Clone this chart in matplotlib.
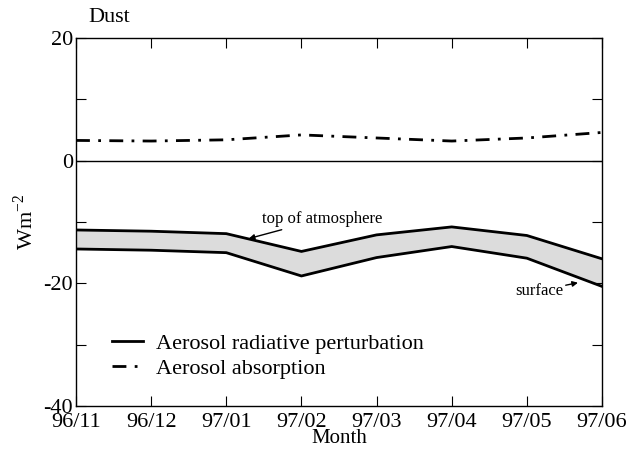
import numpy as np
import matplotlib.pyplot as plt
from matplotlib.ticker import MultipleLocator

# ---------- 数据 ----------
months = ['96/11', '96/12', '97/01', '97/02', '97/03', '97/04', '97/05', '97/06']
toa = [-11.3, -11.5, -11.9, -14.8, -12.1, -10.8, -12.2, -16.0]
surface = [-14.4, -14.6, -15.0, -18.8, -15.8, -14.0, -15.9, -20.5]
absorption = [3.3, 3.2, 3.4, 4.2, 3.7, 3.2, 3.7, 4.6]

plt.rcParams['font.family'] = ['Liberation Serif', 'DejaVu Serif']
plt.rcParams['mathtext.fontset'] = 'stix'
plt.rcParams['axes.unicode_minus'] = False

fig = plt.figure(figsize=(6.31, 4.53), dpi=100)
ax = fig.add_axes([76/631, 1-406/453, 526/631, 368/453])
x = np.arange(len(months))

# ---- 阴影带 + 两条实线 ----
ax.fill_between(x, toa, surface, color='#dcdcdc', lw=0)
ax.plot(x, toa, color='black', lw=2, label='Aerosol radiative perturbation')
ax.plot(x, surface, color='black', lw=2)
ax.plot(x, absorption, color='black', lw=2, dashes=[5, 3, 1, 3],
        label='Aerosol absorption')
ax.axhline(0, color='black', lw=1)

# ---- 坐标轴 ----
ax.set_xlim(0, len(months) - 1)
ax.set_ylim(-40, 20)
ax.set_xticks(x)
ax.set_xticklabels(months, fontsize=16)
ax.yaxis.set_major_locator(MultipleLocator(20))
ax.yaxis.set_minor_locator(MultipleLocator(10))
ax.tick_params(axis='y', labelsize=16)
ax.tick_params(which='both', direction='in', top=True, right=True,
               length=7, width=0.8, pad=2)
ax.tick_params(axis='x', pad=5)
ax.set_xlabel('Month', fontsize=15, labelpad=-2)
ax.set_ylabel('Wm$^{\\mathregular{-2}}$', fontsize=16, labelpad=4)
for s in ax.spines.values():
    s.set_linewidth(1)

fig.text(88/631, 1-22/453, 'Dust', fontsize=16, ha='left', va='baseline')

# ---- 注释 ----
ax.annotate('top of atmosphere', xy=(2.3, toa[2] - 0.8), xytext=(2.47, -9.5),
            fontsize=12, ha='left', va='center',
            arrowprops=dict(arrowstyle='-|>', color='black', lw=1,
                            mutation_scale=8, shrinkA=0, shrinkB=0))
ax.annotate('surface', xy=(6.68, -19.9), xytext=(6.48, -21.2),
            fontsize=12, ha='right', va='center',
            arrowprops=dict(arrowstyle='-|>', color='black', lw=1,
                            mutation_scale=8, shrinkA=0, shrinkB=0))

ax.legend(loc='lower left', bbox_to_anchor=(0.03, 0.02), frameon=False,
          fontsize=16, handlelength=1.4, handletextpad=0.6, labelspacing=0.2)

fig.savefig('out.png', dpi=100)
